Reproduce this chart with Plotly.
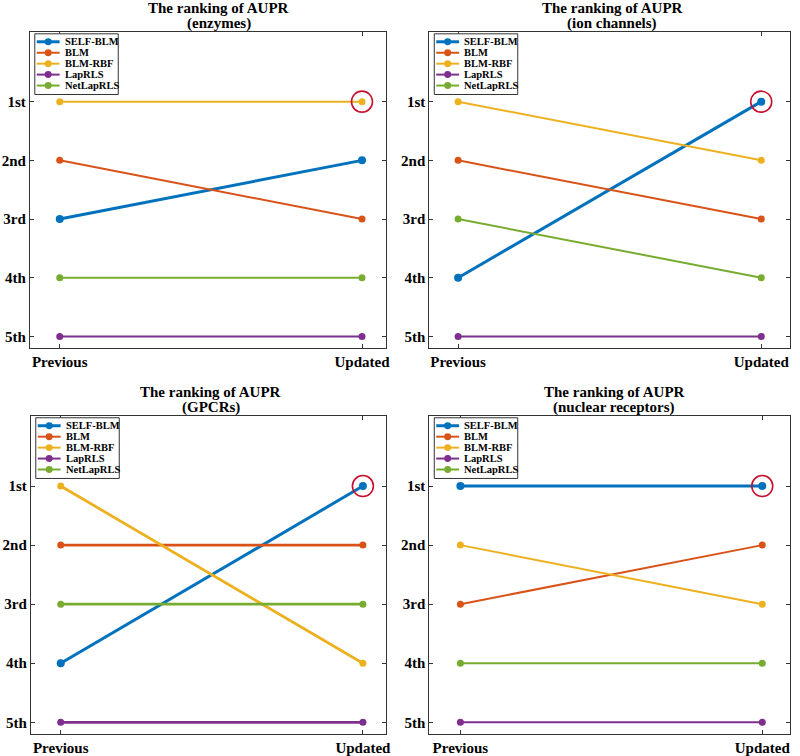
import plotly.graph_objects as go

# ---------------- data ----------------
methods = ["SELF-BLM", "BLM", "BLM-RBF", "LapRLS", "NetLapRLS"]
colors = ["#0072BD", "#D95319", "#EDB120", "#7E2F8E", "#77AC30"]
stages = ["Previous", "Updated"]
rank_vals = [1, 2, 3, 4, 5]
rank_labels = ["1st", "2nd", "3rd", "4th", "5th"]
title_main = "The ranking of AUPR"
datasets = ["enzymes", "ion channels", "GPCRs", "nuclear receptors"]

enzymes_prev = [3, 2, 1, 5, 4]
enzymes_upd = [2, 3, 1, 5, 4]
ion_prev = [4, 2, 1, 5, 3]
ion_upd = [1, 3, 2, 5, 4]
gpcr_prev = [4, 2, 1, 5, 3]
gpcr_upd = [1, 2, 4, 5, 3]
nr_prev = [1, 3, 2, 5, 4]
nr_upd = [1, 2, 3, 5, 4]

highlight_stage = "Updated"
highlight_rank = [1, 1, 1, 1]

prev_all = [enzymes_prev, ion_prev, gpcr_prev, nr_prev]
upd_all = [enzymes_upd, ion_upd, gpcr_upd, nr_upd]

# ---------------- layout geometry (pixels) ----------------
W, H = 800, 756
# (left, right, top, bottom) of each axes box
boxes = [(30, 388, 32, 350), (432, 795, 32, 350),
         (31, 388, 418, 738), (432, 795, 418, 738)]
xranges = [[-0.099, 1.078], [-0.095, 1.095], [-0.099, 1.075], [-0.103, 1.092]]
yrange = [5.2, -0.19]
title_cx = [220, 616, 212, 618]
other_lw = [2, 2, 2.8, 2]

FONT = "Liberation Serif"
AXC = "#333333"


def px(x):
    return x / W


def py(y):
    return 1 - y / H


fig = go.Figure()
shapes = []
annotations = []

for k in range(4):
    ax = "" if k == 0 else str(k + 1)
    xa, ya = "x" + ax, "y" + ax
    for i, m in enumerate(methods):
        lw = 3 if i == 0 else other_lw[k]
        ms = 8 if i == 0 else 7
        fig.add_trace(go.Scatter(
            x=stages, y=[prev_all[k][i], upd_all[k][i]],
            mode="lines+markers", name=m,
            line=dict(color=colors[i], width=lw),
            marker=dict(color=colors[i], size=ms),
            xaxis=xa, yaxis=ya, showlegend=False))
    # highlight circle
    fig.add_trace(go.Scatter(
        x=[highlight_stage], y=[highlight_rank[k]], mode="markers",
        marker=dict(symbol="circle-open", size=21, color="#C8102E",
                    line=dict(width=1.6, color="#C8102E")),
        xaxis=xa, yaxis=ya, showlegend=False, hoverinfo="skip"))

    l, r, t, b = boxes[k]
    axis_common = dict(showline=True, linecolor=AXC, linewidth=1, mirror="ticks",
                       ticks="inside", ticklen=4, tickcolor=AXC, tickwidth=1,
                       showgrid=False, zeroline=False,
                       tickfont=dict(family=FONT, size=15, color="black", weight="bold"))
    fig.layout["xaxis" + ax] = dict(
        domain=[px(l), px(r)], anchor=ya, type="category",
        categoryorder="array", categoryarray=stages,
        range=xranges[k], **axis_common)
    fig.layout["yaxis" + ax] = dict(
        domain=[py(b), py(t)], anchor=xa, range=yrange,
        tickmode="array", tickvals=rank_vals, ticktext=rank_labels,
        **axis_common)

    # title (two lines)
    annotations.append(dict(
        x=px(title_cx[k]), y=py(t - 24), xref="paper", yref="paper",
        text=title_main, showarrow=False, xanchor="center", yanchor="middle",
        font=dict(family=FONT, size=15, color="black", weight="bold")))
    annotations.append(dict(
        x=px(title_cx[k]), y=py(t - 8), xref="paper", yref="paper",
        text="(" + datasets[k] + ")", showarrow=False, xanchor="center",
        yanchor="middle",
        font=dict(family=FONT, size=15, color="black", weight="bold")))

    # manual legend
    lx0, ly0 = l + 5, t + 2
    lw_box, lh_box = 84, 61
    shapes.append(dict(type="rect", xref="paper", yref="paper",
                       x0=px(lx0), x1=px(lx0 + lw_box),
                       y0=py(ly0 + lh_box), y1=py(ly0),
                       line=dict(color=AXC, width=1), fillcolor="white",
                       layer="above"))
    for i, m in enumerate(methods):
        ey = ly0 + 8 + 11 * i
        shapes.append(dict(type="line", xref="paper", yref="paper",
                           x0=px(lx0 + 2), x1=px(lx0 + 25), y0=py(ey), y1=py(ey),
                           line=dict(color=colors[i], width=3 if i == 0 else 2),
                           layer="above"))
        rr = 3.5
        shapes.append(dict(type="circle", xref="paper", yref="paper",
                           x0=px(lx0 + 13.5 - rr), x1=px(lx0 + 13.5 + rr),
                           y0=py(ey + rr), y1=py(ey - rr),
                           line=dict(color=colors[i], width=0),
                           fillcolor=colors[i], layer="above"))
        annotations.append(dict(
            x=px(lx0 + 28), y=py(ey), xref="paper", yref="paper", text=m,
            showarrow=False, xanchor="left", yanchor="middle",
            font=dict(family=FONT, size=10.5, color="black", weight="bold")))

fig.update_layout(width=W, height=H, margin=dict(l=0, r=0, t=0, b=0),
                  plot_bgcolor="white", paper_bgcolor="white",
                  shapes=shapes, annotations=annotations, showlegend=False)

fig.write_html("out.html", config={"displayModeBar": False},
               post_script="document.body.style.margin='0px';"
                           "document.body.style.overflow='hidden';")
